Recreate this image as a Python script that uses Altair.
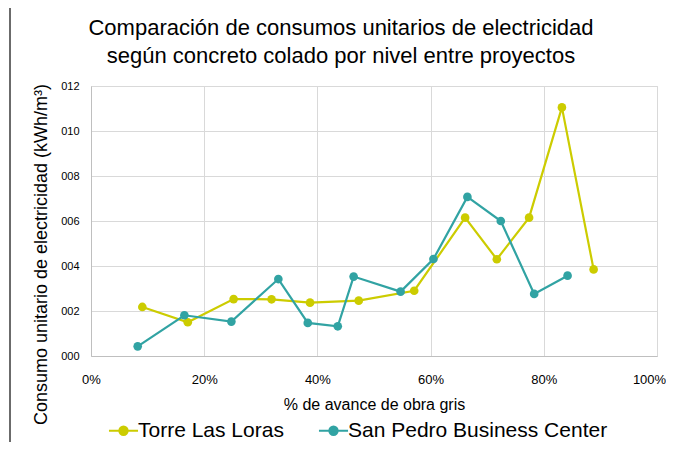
import altair as alt
import pandas as pd

x_torre = [0.0907, 0.171, 0.252, 0.319, 0.387, 0.473, 0.571, 0.661, 0.717, 0.774, 0.832, 0.888]
y_torre = [0.00218, 0.00150, 0.00253, 0.00252, 0.00237, 0.00246, 0.00290, 0.00615, 0.00430, 0.00615, 0.01105, 0.00385]
x_sp = [0.0825, 0.165, 0.248, 0.331, 0.383, 0.436, 0.464, 0.547, 0.605, 0.665, 0.724, 0.783, 0.842]
y_sp = [0.00043, 0.00181, 0.00153, 0.00342, 0.00147, 0.00132, 0.00353, 0.00286, 0.00431, 0.00707, 0.00600, 0.00276, 0.00357]
series = ["Torre Las Loras", "San Pedro Business Center"]
colors = ["#CCCC00", "#31A3A3"]

rows = []
for i, (a, b) in enumerate(zip(x_torre, y_torre)):
    rows.append({"serie": series[0], "x": a, "y": b, "ord": i})
for i, (a, b) in enumerate(zip(x_sp, y_sp)):
    rows.append({"serie": series[1], "x": a, "y": b, "ord": i})
df = pd.DataFrame(rows)

FONT = "Liberation Sans"
color = alt.Color("serie:N", scale=alt.Scale(domain=series, range=colors),
                  sort=series,
                  legend=alt.Legend(title=None, orient="none", direction="horizontal",
                                    legendX=22, legendY=334, labelFontSize=21,
                                    labelFont=FONT, labelColor="#000000", labelLimit=0,
                                    symbolType="M-1.6,0H1.6M-0.45,0A0.45,0.45 0 1,0 0.45,0A0.45,0.45 0 1,0 -0.45,0",
                                    symbolSize=330, symbolStrokeWidth=2.2,
                                    columnPadding=30, labelOffset=4))

xenc = alt.X("x:Q", scale=alt.Scale(domain=[0, 1]),
             axis=alt.Axis(format="%", values=[0, 0.2, 0.4, 0.6, 0.8, 1.0],
                           title="% de avance de obra gris", titleFontSize=16,
                           titleFontWeight="normal", titleFont=FONT, titleColor="#000000",
                           titlePadding=10,
                           labelFontSize=13, labelFont=FONT, labelColor="#000000",
                           labelPadding=17, ticks=False, domainColor="#bfbfbf",
                           gridColor="#d9d9d9", labelFlush=False,
                           labelOffset=alt.ExprRef("datum.value == 1 ? -8 : 0")))
yenc = alt.Y("y:Q", scale=alt.Scale(domain=[0, 0.012]),
             axis=alt.Axis(values=[0, 0.002, 0.004, 0.006, 0.008, 0.010, 0.012],
                           labelExpr="'0' + format(datum.value*1000, '02d')",
                           title="Consumo unitario de electricidad (kWh/m³)",
                           titleFontSize=18, titleFontWeight="normal", titleFont=FONT,
                           titleColor="#000000", titlePadding=10, titleY=168,
                           labelFontSize=11, labelFont=FONT, labelColor="#000000",
                           labelPadding=12, ticks=False, domainColor="#bfbfbf",
                           gridColor="#d9d9d9"))

base = alt.Chart(df).encode(x=xenc, y=yenc, color=color, order="ord:Q", detail="serie:N")
line = base.mark_line(strokeWidth=2.2)
pts = base.mark_circle(size=75, opacity=1)

frame = alt.Chart(df).mark_rule(color="#6b6b6b", strokeWidth=2).encode(
    x=alt.value(-81), y=alt.value(-78), y2=alt.value(356)
)

chart = alt.layer(line, pts, frame).properties(
    width=566, height=270,
    padding={"left": 83, "top": 78, "right": 9, "bottom": 86},
    autosize=alt.AutoSizeParams(type="none"),
    title=alt.TitleParams(
        ["Comparación de consumos unitarios de electricidad",
         "según concreto colado por nivel entre proyectos"],
        fontSize=22, font=FONT, fontWeight="normal", color="#000000",
        anchor="middle", dx=-33, offset=-61, lineHeight=28),
).configure_view(stroke="#d9d9d9")

chart.save("out.html", embed_options={"renderer": "svg", "actions": False})
